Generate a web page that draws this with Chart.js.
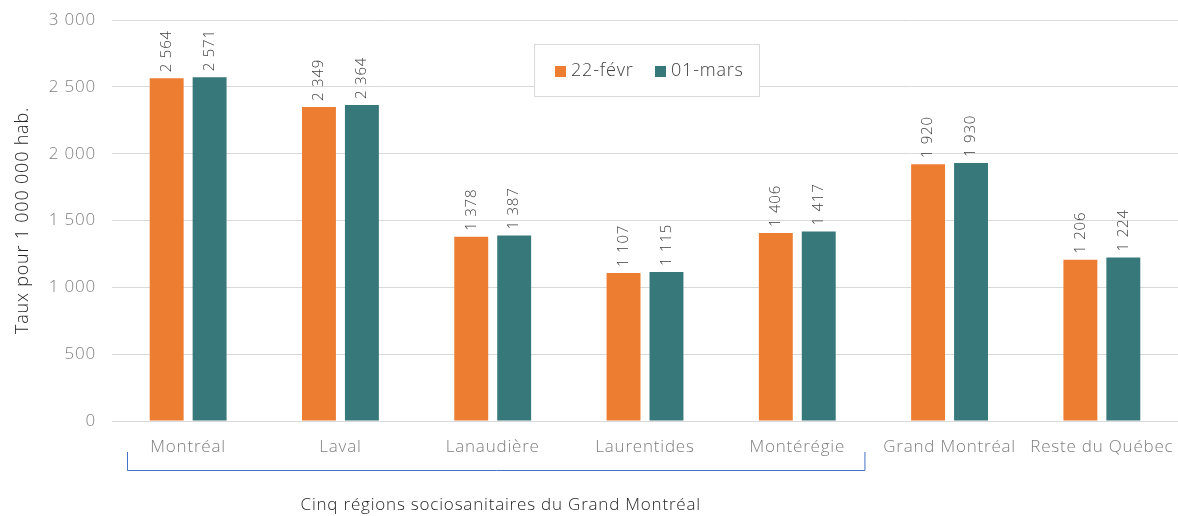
<!DOCTYPE html>
<html><head><meta charset="utf-8">
<script src="https://cdn.jsdelivr.net/npm/chart.js@4.4.1/dist/chart.umd.min.js"></script>
<style>html,body{margin:0;padding:0;background:#fff;}#wrap{width:1178px;height:516px;position:relative;}</style>
</head><body><div id="wrap"><canvas id="c" width="1178" height="516"></canvas></div>
<script>
const categories = ["Montréal","Laval","Lanaudière","Laurentides","Montérégie","Grand Montréal","Reste du Québec"];
const seriesNames = ["22-févr","01-mars"];
const valuesFeb22 = [2564,2349,1378,1107,1406,1920,1206];
const valuesMar01 = [2571,2364,1387,1115,1417,1930,1224];
const yTicks = [0,500,1000,1500,2000,2500,3000];
const colors = ["#ED7D31","#37787A"];
const FONT = "'Open Sans', Lato, sans-serif";
const W = "300 ";
const fmt = v => String(v).replace(/\B(?=(\d{3})+(?!\d))/g, " ");

const spacing = {
  id: 'spacing',
  beforeDraw(chart) { chart.ctx.letterSpacing = "0.8px"; }
};

const overlay = {
  id: 'overlay',
  afterDatasetsDraw(chart) {
    const ctx = chart.ctx;
    ctx.save();
    ctx.letterSpacing = "0.8px";
    ctx.font = W + "15px " + FONT;
    ctx.fillStyle = "#404040";
    chart.data.datasets.forEach((ds, di) => {
      chart.getDatasetMeta(di).data.forEach((bar, i) => {
        ctx.save();
        ctx.translate(bar.x, bar.y - 6);
        ctx.rotate(-Math.PI / 2);
        ctx.textAlign = "left";
        ctx.textBaseline = "middle";
        ctx.fillText(fmt(ds.data[i]), 0, 0);
        ctx.restore();
      });
    });
    ctx.restore();
    ctx.save();
    ctx.letterSpacing = "0.8px";
    const lx = 534.5, ly = 44.5, lw = 225, lh = 52;
    ctx.fillStyle = "#fff";
    ctx.fillRect(lx, ly, lw, lh);
    ctx.strokeStyle = "#d9d9d9";
    ctx.lineWidth = 1;
    ctx.strokeRect(lx, ly, lw, lh);
    ctx.font = W + "18px " + FONT;
    ctx.textBaseline = "middle";
    ctx.textAlign = "left";
    const items = [[555, 571], [655, 671]];
    chart.data.datasets.forEach((ds, di) => {
      ctx.fillStyle = ds.backgroundColor;
      ctx.fillRect(items[di][0], 66, 11, 11);
      ctx.fillStyle = "#404040";
      ctx.fillText(ds.label, items[di][1], 71);
    });
    ctx.restore();
    const xs = chart.scales.x;
    const half = (xs.getPixelForValue(1) - xs.getPixelForValue(0)) / 2;
    const bl = xs.getPixelForValue(0) - half + 15;
    const br = xs.getPixelForValue(4) + half - 9;
    ctx.save();
    ctx.letterSpacing = "0.8px";
    ctx.strokeStyle = "#4472C4";
    ctx.lineWidth = 1;
    ctx.beginPath();
    ctx.moveTo(bl + 0.5, 452);
    ctx.lineTo(bl + 0.5, 470.5);
    ctx.lineTo(br + 0.5, 470.5);
    ctx.lineTo(br + 0.5, 452);
    ctx.stroke();
    ctx.font = W + "17px " + FONT;
    ctx.fillStyle = "#262626";
    ctx.textAlign = "center";
    ctx.textBaseline = "middle";
    ctx.fillText("Cinq régions sociosanitaires du Grand Montréal", (bl + br) / 2 + 5, 505);
    ctx.restore();
  }
};

new Chart(document.getElementById('c'), {
  type: 'bar',
  data: {
    labels: categories,
    datasets: [
      { label: seriesNames[0], data: valuesFeb22, backgroundColor: colors[0], categoryPercentage: 0.564, barPercentage: 0.79 },
      { label: seriesNames[1], data: valuesMar01, backgroundColor: colors[1], categoryPercentage: 0.564, barPercentage: 0.79 }
    ]
  },
  options: {
    responsive: false,
    animation: false,
    layout: { padding: { top: 20, right: 0, bottom: 0, left: 12 } },
    plugins: { legend: { display: false }, tooltip: { enabled: false } },
    scales: {
      x: {
        grid: { display: false, drawTicks: false },
        border: { color: "#d9d9d9" },
        ticks: { color: "#7f7f7f", font: { family: FONT, size: 17, weight: 300 }, padding: 16, maxRotation: 0, autoSkip: false },
        afterFit(s) { s.height = 95; s.paddingLeft = 0; s.paddingRight = 0; }
      },
      y: {
        min: 0, max: 3000,
        afterBuildTicks(s) { s.ticks = yTicks.map(v => ({ value: v })); },
        grid: { color: "#d9d9d9", drawTicks: false },
        border: { display: false },
        ticks: { color: "#7f7f7f", font: { family: FONT, size: 17, weight: 300 }, padding: 16, callback: v => fmt(v) },
        title: { display: true, text: "Taux pour 1 000 000 hab.", color: "#262626", font: { family: FONT, size: 18, weight: 300 }, padding: { top: 0, bottom: 4 } },
        afterFit(s) { s.width = 100; s.paddingTop = 0; s.paddingBottom = 0; }
      }
    }
  },
  plugins: [spacing, overlay]
});
</script></body></html>
